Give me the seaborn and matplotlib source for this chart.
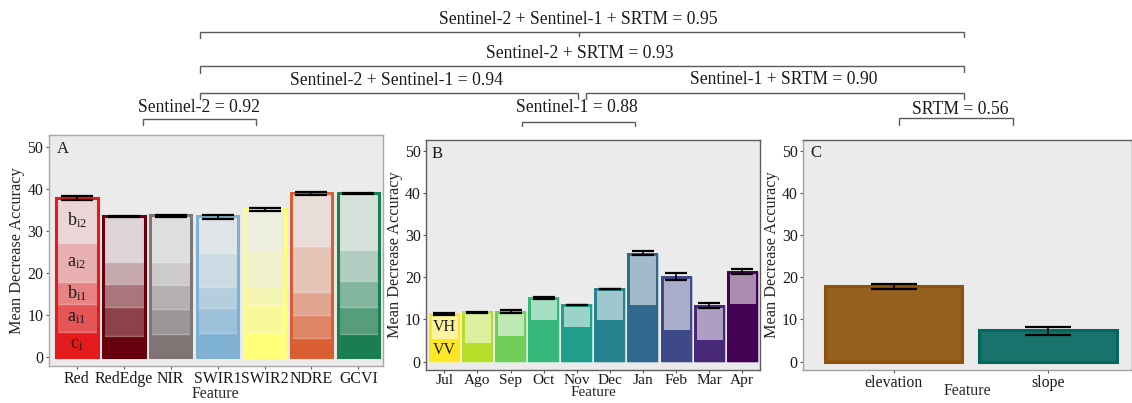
import numpy as np
import pandas as pd
import matplotlib
matplotlib.use("Agg")
import matplotlib.pyplot as plt
import seaborn as sns
from matplotlib.colors import to_rgb

# ---------------- data ----------------
# Panel A: Sentinel-2 features, cumulative tops of the stacked components
features_a = ["Red", "RedEdge", "NIR", "SWIR1", "SWIR2", "NDRE", "GCVI"]
ci_top = [6.0, 5.0, 5.4, 5.6, 6.0, 4.4, 5.4]
ai1_top = [12.6, 11.8, 11.5, 11.7, 12.6, 10.0, 11.9]
bi1_top = [17.8, 17.3, 17.0, 16.7, 16.7, 15.5, 18.1]
ai2_top = [27.1, 22.5, 22.5, 24.7, 25.2, 26.3, 25.5]
bi2_top = [37.9, 33.5, 33.7, 33.5, 35.2, 39.0, 39.1]
a_mean = [37.8, 33.4, 33.6, 33.3, 35.1, 38.9, 39.0]
a_err = [0.5, 0.15, 0.15, 0.4, 0.3, 0.3, 0.1]
segment_labels_a = [r"c$_{\mathrm{i}}$", r"a$_{\mathrm{i1}}$", r"b$_{\mathrm{i1}}$",
                    r"a$_{\mathrm{i2}}$", r"b$_{\mathrm{i2}}$"]

# Panel B: Sentinel-1 months, VV (bottom) and VV+VH total
months = ["Jul", "Ago", "Sep", "Oct", "Nov", "Dec", "Jan", "Feb", "Mar", "Apr"]
vv_top = [5.3, 4.5, 6.1, 9.9, 8.3, 9.9, 13.5, 7.5, 5.1, 13.7]
total_b = [11.5, 11.9, 12.0, 15.2, 13.6, 17.4, 25.8, 20.3, 13.3, 21.5]
b_mean = [11.35, 11.7, 11.9, 15.1, 13.4, 17.2, 25.7, 20.2, 13.2, 21.3]
b_err = [0.2, 0.1, 0.3, 0.3, 0.1, 0.1, 0.4, 0.8, 0.6, 0.6]

# Panel C: SRTM
features_c = ["elevation", "slope"]
values_c = [17.9, 7.4]
c_mean = [17.8, 7.3]
c_err = [0.5, 0.9]

# Brackets (overall accuracies)
bracket_texts = ["Sentinel-2 + Sentinel-1 + SRTM = 0.95", "Sentinel-2 + SRTM = 0.93",
                 "Sentinel-2 + Sentinel-1 = 0.94", "Sentinel-1 + SRTM = 0.90",
                 "Sentinel-2 = 0.92", "Sentinel-1 = 0.88", "SRTM = 0.56"]

# ---------------- style ----------------
BG = "#EBEBEB"
sns.set_theme(style="white")
plt.rcParams.update({
    "font.family": ["Liberation Serif", "DejaVu Serif"],
    "mathtext.fontset": "custom",
    "mathtext.rm": "Liberation Serif",
    "mathtext.it": "Liberation Serif:italic",
    "mathtext.bf": "Liberation Serif:bold",
    "axes.facecolor": BG,
})


def mix(c, bg, a):
    c = np.array(to_rgb(c)); bg = np.array(to_rgb(bg))
    return tuple(a * c + (1 - a) * bg)


base_a = {"Red": "#E41A1C", "RedEdge": "#67000D", "NIR": "#7F7575", "SWIR1": "#7FB1D3",
          "SWIR2": "#FFFF7A", "NDRE": "#D95F32", "GCVI": "#1B7E50"}
layer_alpha = [1.0, 0.72, 0.5, 0.28, 0.1]

W, H = 1132, 403
fig = plt.figure(figsize=(W / 100, H / 100), dpi=100)


def px_axes(l, t, r, b):
    return fig.add_axes([l / W, 1 - b / H, (r - l) / W, (b - t) / H])


axA = px_axes(48.5, 135, 383.3, 365.5)
axB = px_axes(426, 140, 760, 370)
axC = px_axes(803, 140, 1132, 370)

TICK_FS = 11.4
LAB_FS = 11.7
XLAB_FS = 11.4

# ---------------- panel A ----------------
dfA = pd.DataFrame({"Feature": features_a, "ci": ci_top, "ai1": ai1_top, "bi1": bi1_top,
                    "ai2": ai2_top, "bi2": bi2_top})
layer_cols = ["ci", "ai1", "bi1", "ai2", "bi2"]
for idx in range(len(layer_cols) - 1, -1, -1):
    col = layer_cols[idx]
    pal = {f: mix(base_a[f], BG, layer_alpha[idx]) for f in features_a}
    sns.barplot(data=dfA, x="Feature", y=col, hue="Feature", palette=pal, order=features_a,
                hue_order=features_a, legend=False, saturation=1, errorbar=None, width=0.89,
                edgecolor=(1, 1, 1, 0.3), linewidth=1.0, ax=axA)
sns.barplot(data=dfA, x="Feature", y="bi2", hue="Feature", palette=base_a, order=features_a,
            hue_order=features_a, legend=False, saturation=1, errorbar=None, width=0.89,
            fill=False, linewidth=2.2, ax=axA)
axA.errorbar(np.arange(len(features_a)), a_mean, yerr=a_err, fmt="none", ecolor="black",
             elinewidth=1.2, capsize=11.4, capthick=1.6, zorder=5)
bottoms = [0] + [dfA[c].iloc[0] for c in layer_cols[:-1]]
tops = [dfA[c].iloc[0] for c in layer_cols]
for lab, b0, t0 in zip(segment_labels_a, bottoms, tops):
    axA.text(0, (b0 + t0) / 2, lab, ha="center", va="center", fontsize=13, color="#1a1a1a")
axA.set_xlim(-0.6, 6.53)
axA.set_ylim(-2.1, 52.9)

# ---------------- panel B ----------------
base_b = dict(zip(months, [tuple(c[:3]) for c in plt.get_cmap("viridis")(np.linspace(1, 0, len(months)))]))
light_b = {m: mix(base_b[m], "white", 0.45) for m in months}
dfB = pd.DataFrame({"Month": months, "VV": vv_top, "Total": total_b})
common_b = dict(data=dfB, x="Month", hue="Month", order=months, hue_order=months, legend=False,
                saturation=1, errorbar=None, width=0.935, ax=axB)
n0 = len(axB.patches)
sns.barplot(y="Total", palette=base_b, edgecolor=(1, 1, 1, 0.35), linewidth=1.0, **common_b)
outer_b = axB.patches[n0:]
n1 = len(axB.patches)
sns.barplot(y="Total", palette=light_b, linewidth=3.6, **common_b)
for p, m, o in zip(axB.patches[n1:], months, outer_b):
    p.set_edgecolor(base_b[m])
    p.set_clip_path(o)
sns.barplot(y="VV", palette=base_b, linewidth=0, **common_b)
axB.errorbar(np.arange(len(months)), b_mean, yerr=b_err, fmt="none", ecolor="black",
             elinewidth=1.2, capsize=7.6, capthick=1.6, zorder=5)
axB.text(0, (dfB["VV"].iloc[0] + dfB["Total"].iloc[0]) / 2 - 0.3, "VH", ha="center", va="center",
         fontsize=11.5, color="#1a1a1a")
axB.text(0, dfB["VV"].iloc[0] / 2, "VV", ha="center", va="center", fontsize=11.5, color="#1a1a1a")
axB.set_xlim(-0.553, 9.535)
axB.set_ylim(-2.0, 52.5)

# ---------------- panel C ----------------
base_c = {"elevation": "#8C510A", "slope": "#01665E"}
fill_c = {k: mix(v, BG, 0.9) for k, v in base_c.items()}
dfC = pd.DataFrame({"Feature": features_c, "MDA": values_c})
common_c = dict(data=dfC, x="Feature", y="MDA", hue="Feature", order=features_c, hue_order=features_c,
                legend=False, saturation=1, errorbar=None, width=0.89, ax=axC)
sns.barplot(palette=fill_c, linewidth=0, **common_c)
sns.barplot(palette=base_c, fill=False, linewidth=2.2, **common_c)
axC.errorbar(np.arange(len(features_c)), c_mean, yerr=c_err, fmt="none", ecolor="black",
             elinewidth=1.2, capsize=16.6, capthick=1.6, zorder=5)
axC.set_xlim(-0.59, 1.545)
axC.set_ylim(-2.0, 52.5)

# ---------------- common axis styling ----------------
frame_cols = {axA: {"left": "#A8A8A8", "right": "#A8A8A8", "top": "#A8A8A8", "bottom": "#A8A8A8"},
              axB: {"left": "#5E5E5E", "right": "#5E5E5E", "top": "#5E5E5E", "bottom": "#5E5E5E"},
              axC: {"left": "#A0A0A0", "right": "#5E5E5E", "top": "#5E5E5E", "bottom": "#A0A0A0"}}
for ax, letter, lx, ly in [(axA, "A", 0.024, 0.975), (axB, "B", 0.018, 0.975), (axC, "C", 0.021, 0.978)]:
    ax.set_yticks([0, 10, 20, 30, 40, 50])
    ax.set_ylabel("Mean Decrease Accuracy", fontsize=LAB_FS, labelpad=1.5)
    ax.set_xlabel("Feature", fontsize=XLAB_FS, labelpad=0.5)
    ax.tick_params(axis="both", which="both", length=2.2, width=0.8, color="#555555",
                   labelsize=TICK_FS, pad=1.5, labelcolor="#1a1a1a", bottom=True, left=True)
    ax.grid(False)
    for side, sp in ax.spines.items():
        sp.set_visible(True)
        sp.set_color(frame_cols[ax][side])
        sp.set_linewidth(1.0)
    ax.text(lx, ly, letter, transform=ax.transAxes, ha="left", va="top", fontsize=12, color="#1a1a1a")
axB.tick_params(axis="x", pad=0.6, labelsize=11.1)
axB.xaxis.label.set_size(11.0)
axA.xaxis.labelpad = -0.3
axB.xaxis.labelpad = -1.0
axC.xaxis.labelpad = -6.0

# ---------------- brackets ----------------
axO = fig.add_axes([0, 0, 1, 1], facecolor="none")
axO.set_xlim(0, W)
axO.set_ylim(H, 0)
axO.axis("off")
LC = "#5A5A5A"
# (x0, x1, y_line, y_end_left, y_end_right)
bracket_geom = [(200, 964, 31.7, 38, 37), (200, 964, 66, 72.5, 71.7), (200, 578, 92.7, 99.3, 99.3),
                (586, 964, 92.7, 99.3, 99.3), (143, 256, 119.3, 124.5, 124.5),
                (522, 635, 121.7, 125.5, 125.5), (899, 1013, 118.3, 125, 125)]
text_pos = [(578, 19), (580, 53), (396, 80.5), (784, 80), (199, 108), (577, 108), (960, 109.5)]
for (x0, x1, yl, yel, yer), txt, (tx, ty) in zip(bracket_geom, bracket_texts, text_pos):
    axO.plot([x0, x0, x1, x1], [yel, yl, yl, yer], color=LC, lw=1.0, solid_joinstyle="miter")
    axO.text(tx, ty, txt, ha="center", va="center", fontsize=12.7, color="#1a1a1a")
axO.plot([579, 579], [31.7, 36], color=LC, lw=1.0)

fig.savefig("out.png", dpi=100, facecolor="white")
